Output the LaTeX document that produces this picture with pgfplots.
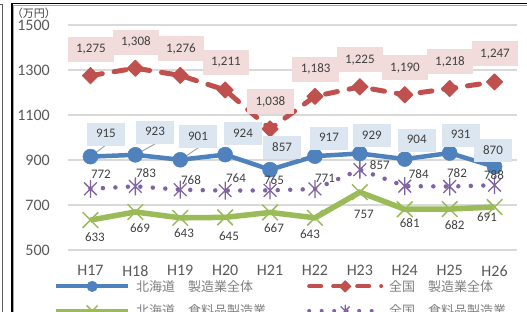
\documentclass[border=0pt]{standalone}
\usepackage{fontspec}
\setmainfont{Carlito}
\newfontfamily\cjk{Noto Sans CJK JP}
\usepackage{pgfplots}
\usepackage{pgfplotstable}
\pgfplotsset{compat=1.18}
\definecolor{cblue}{HTML}{4F81BD}
\definecolor{cred}{HTML}{C0504D}
\definecolor{cgreen}{HTML}{9BBB59}
\definecolor{cpurple}{HTML}{8064A2}
\definecolor{cpink}{HTML}{F2DCDB}
\definecolor{clblue}{HTML}{DCE6F1}
\definecolor{ctext}{HTML}{404040}
\definecolor{ctick}{HTML}{595959}
\definecolor{cgrid}{HTML}{D9D9D9}
\definecolor{clegend}{HTML}{7F7F7F}
\definecolor{clead}{HTML}{A6A6A6}

\pgfdeclareplotmark{xstar}{%
 \pgfpathmoveto{\pgfqpoint{-.7071\pgfplotmarksize}{-.7071\pgfplotmarksize}}%
 \pgfpathlineto{\pgfqpoint{.7071\pgfplotmarksize}{.7071\pgfplotmarksize}}%
 \pgfpathmoveto{\pgfqpoint{-.7071\pgfplotmarksize}{.7071\pgfplotmarksize}}%
 \pgfpathlineto{\pgfqpoint{.7071\pgfplotmarksize}{-.7071\pgfplotmarksize}}%
 \pgfpathmoveto{\pgfqpoint{0pt}{-\pgfplotmarksize}}%
 \pgfpathlineto{\pgfqpoint{0pt}{\pgfplotmarksize}}%
 \pgfusepathqstroke}

% 北海道 製造業全体
\pgfplotstableread{
x y dx dy
0 915 15.5 22.6
1 923 19.6 22.8
2 901 17.7 22.8
3 924 17.8 20.6
4 857 12 21.7
5 917 14 18
6 929 12 17.5
7 904 12 19
8 931 11 18
9 870 -1.6 16
}\hkSeizo
% 全国 製造業全体
\pgfplotstableread{
x y dx dy
0 1275 0.5 26.6
1 1308 0.6 26
2 1276 0.7 26.4
3 1211 0.8 28
4 1038 0.4 27
5 1183 0.7 27
6 1225 0 27
7 1190 0.2 27
8 1218 0.3 26.5
9 1247 0.4 28
}\zkSeizo
% 北海道 食料品製造業
\pgfplotstableread{
x y dx dy
0 633 4.5 -18
1 669 4.6 -17
2 643 3.7 -16
3 645 3.8 -19.6
4 667 3.9 -16.6
5 643 -5 -17
6 757 4 -22.8
7 681 5 -14.7
8 682 5 -17
9 691 -7.6 -11
}\hkShoku
% 全国 食料品製造業
\pgfplotstableread{
x y dx dy
0 772 10.5 13.8
1 783 10.6 12.3
2 768 10.7 8.7
3 764 10.8 11.6
4 765 3.9 9.4
5 771 10 10
6 857 20 3.7
7 784 14 11
8 782 7.3 12.5
9 788 -0.6 9.2
}\zkShoku

\pgfplotsset{
 lab/.style={forget plot, draw=none, mark=none, point meta=y,
  nodes near coords={\pgfmathprintnumber[1000 sep={,},assume math mode=true]{\pgfplotspointmeta}},
  visualization depends on={\thisrow{dx}\as\myDX},
  visualization depends on={\thisrow{dy}\as\myDY},
  every node near coord/.append style={anchor=center, xshift=\myDX pt, yshift=\myDY pt,
    font=\fontsize{13}{15}\selectfont, text=ctext, text height=9pt, text depth=2pt, #1}},
}

\begin{document}
\begin{tikzpicture}[x=1pt,y=1pt]
\useasboundingbox (0,0) rectangle (527,312);
\clip (0,0) rectangle (527,312);
\begin{axis}[
 at={(68pt,62pt)}, anchor=south west,
 scale only axis, width=449pt, height=225pt,
 xmin=-0.5, xmax=9.5, ymin=500, ymax=1500,
 xtick={0,...,9}, xticklabels={H17,H18,H19,H20,H21,H22,H23,H24,H25,H26},
 ytick={500,700,...,1500},
 ymajorgrids, grid style={cgrid, line width=1.5pt},
 axis line style={draw=none},
 major tick length=0pt,
 tick label style={font=\fontsize{16}{18}\selectfont, text=ctick},
 yticklabel style={/pgf/number format/1000 sep={}, /pgf/number format/assume math mode=true, inner sep=0pt, xshift=-18pt},
 xticklabel style={inner sep=0pt, yshift=-15pt},
 clip=false,
 legend columns=2,
 legend style={at={(axis description cs:-0.0312,-0.1333)}, anchor=north west, draw=none, fill=none,
   inner sep=0pt, font=\cjk\fontsize{13}{15}\selectfont, text=clegend,
   /tikz/every even column/.append style={column sep=41pt},
   /tikz/every odd column/.append style={column sep=6pt},
   row sep=12pt, nodes={inner sep=0pt}},
 legend cell align=left,
 legend image code/.code={\draw[mark repeat=2,mark phase=2,#1,line width=4pt,every mark/.append style={scale=0.7}] plot coordinates {(0pt,0pt) (36pt,0pt) (72pt,0pt)};},
]
\addplot[cblue, line width=4.5pt, mark=*, mark size=7.5pt, mark options={solid, fill=cblue, line width=0.5pt}] table[x=x,y=y]{\hkSeizo};
\addlegendentry{北海道　製造業全体}
\addplot[cred, line width=5pt, dash pattern=on 12pt off 12pt, line cap=round, mark=square*, mark size=5.7pt, mark options={solid, rotate=45, fill=cred, line width=1pt, line join=round}] table[x=x,y=y]{\zkSeizo};
\addlegendentry{全国　製造業全体}
\addplot[cgreen, line width=5.5pt, mark=x, mark size=11pt, mark options={solid, line width=1.5pt}] table[x=x,y=y]{\hkShoku};
\addlegendentry{北海道　食料品製造業}
\addplot[cpurple, line width=4.5pt, dash pattern=on 0pt off 12.5pt, line cap=round, mark=xstar, mark size=9pt, mark options={solid, line width=1.3pt, line cap=butt}] table[x=x,y=y]{\zkShoku};
\addlegendentry{全国　食料品製造業}
% leader lines
\draw[clead, line width=1pt] (axis cs:0,915) -- ++(14.5pt,10.9pt);
\draw[clead, line width=1pt] (axis cs:1,923) -- ++(19.6pt,10.8pt);
\draw[clead, line width=1pt] (axis cs:2,901) -- ++(19.7pt,13.1pt);
% data labels
\addplot[lab={fill=clblue, inner xsep=9pt, inner ysep=6pt}] table[x=x,y=y]{\hkSeizo};
\addplot[lab={fill=cpink, inner xsep=8.5pt, inner ysep=7pt}] table[x=x,y=y]{\zkSeizo};
\addplot[lab={inner sep=1pt}] table[x=x,y=y]{\hkShoku};
\addplot[lab={inner sep=1pt}] table[x=x,y=y]{\zkShoku};
\end{axis}
\node[font=\cjk\fontsize{11}{13}\selectfont, text=ctext, inner sep=0pt] at (34,299) {（万円）};
% frame
\draw[ctick, line width=0.8pt] (2.3,-5) -- (2.3,308) -- (-5,308);
\draw[black, line width=1.4pt] (11.8,-5) -- (11.8,308.3) -- (540,308.3);
\draw[gray!70, line width=0.9pt] (13.2,-5) -- (13.2,307) -- (540,307);
\end{tikzpicture}
\end{document}
